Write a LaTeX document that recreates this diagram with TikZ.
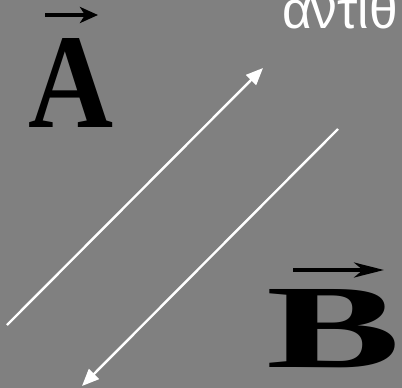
\documentclass[tikz,border=0pt]{standalone}
\usepackage{fontspec}
\usepackage{graphicx}
\setmainfont{Liberation Serif}
\newfontfamily\greekfont{Liberation Sans}
\usetikzlibrary{arrows.meta}
\definecolor{bggray}{HTML}{808080}
\tikzset{
  letter/.style={inner sep=0pt, outer sep=0pt, anchor=south west, text=black},
  whitearrow/.style={draw=white, line width=2.4pt, -{Triangle[length=17pt,width=14pt]}},
  vecarrow/.style={draw=black, line width=4.5pt, -{Stealth[length=18pt,width=16pt,inset=5pt]}}
}
\begin{document}
\begin{tikzpicture}[x=1pt,y=-1pt]
\path[use as bounding box, fill=bggray] (0,0) rectangle (402,388);
% letters
\node[letter] (A) at (28,127) {\resizebox{85pt}{89pt}{\bfseries A}};
\node[letter] (B) at (266,368) {\resizebox{134pt}{78pt}{\bfseries B}};
\node[inner sep=0pt, anchor=base west, text=white] (T) at (282,28) {\scalebox{0.97}[1]{\greekfont\fontsize{53pt}{56pt}\selectfont αντιθ}};
% vector arrows
\coordinate (a1) at (45,15);
\coordinate (a2) at (98,15);
\draw[vecarrow] (a1) -- (a2);
\coordinate (b1) at (293,270);
\coordinate (b2) at (384,270);
\draw[draw=black, line width=4pt, -{Stealth[length=30pt,width=15pt,inset=9pt]}] (b1) -- (b2);
% white arrows
\coordinate (p1) at (7,325);
\coordinate (p2) at (263,68);
\draw[whitearrow] (p1) -- (p2);
\coordinate (q1) at (338,129);
\coordinate (q2) at (82,386);
\draw[whitearrow] (q1) -- (q2);
\end{tikzpicture}
\end{document}
